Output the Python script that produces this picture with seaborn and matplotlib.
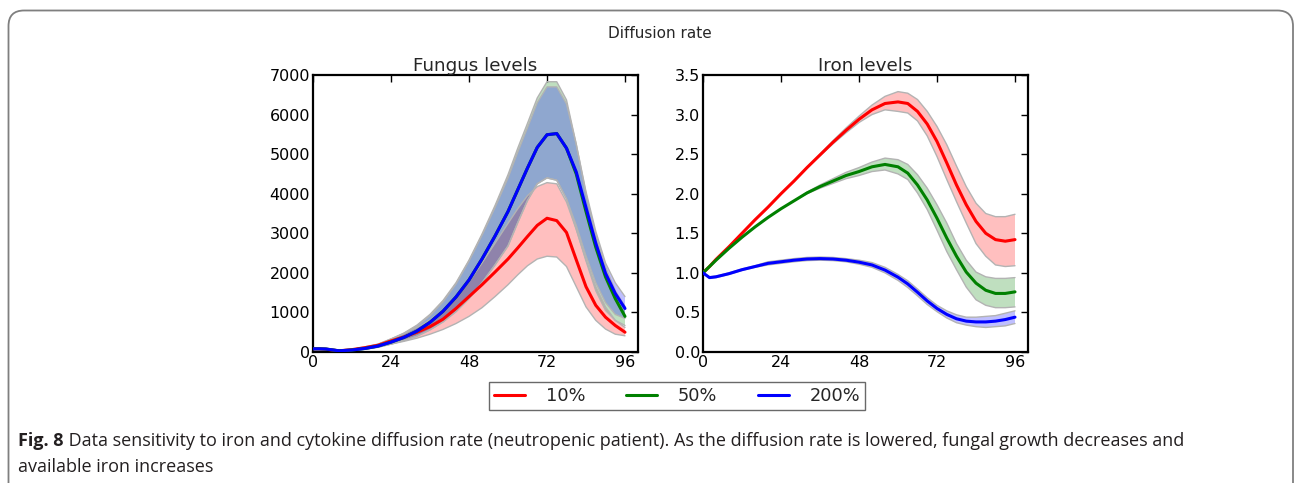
import numpy as np
import pandas as pd
import matplotlib
matplotlib.use("Agg")
import matplotlib.pyplot as plt
import seaborn as sns
from matplotlib.patches import FancyBboxPatch
from matplotlib.lines import Line2D

# ---------------- data ----------------
hours = [0, 2, 4, 8, 12, 16, 20, 24, 28, 32, 36, 40, 44, 48, 52, 56,
         60, 63, 66, 69, 72, 75, 78, 81, 84, 87, 90, 93, 96]
labels = ["10%", "50%", "200%"]
colors = ["#ff0000", "#008000", "#0000ff"]

fungus_10 = [80, 80, 70, 30, 60, 110, 170, 280, 380, 500, 640, 830, 1100, 1400, 1700, 2020,
             2350, 2630, 2920, 3200, 3380, 3320, 3020, 2330, 1650, 1180, 880, 670, 500]
fungus_10_lo = [80, 80, 70, 25, 50, 90, 140, 200, 270, 350, 450, 570, 720, 900, 1120, 1400,
                1700, 1950, 2180, 2350, 2420, 2400, 2160, 1650, 1140, 800, 580, 450, 410]
fungus_10_hi = [80, 80, 70, 35, 70, 130, 200, 330, 460, 620, 810, 1060, 1380, 1780, 2250, 2750,
                3250, 3620, 3950, 4180, 4280, 4250, 3790, 3100, 2330, 1650, 1140, 800, 620]

fungus_50 = [80, 80, 75, 30, 50, 90, 150, 250, 370, 530, 750, 1030, 1390, 1820, 2350, 2930,
             3550, 4100, 4650, 5170, 5490, 5520, 5150, 4500, 3550, 2650, 1900, 1350, 900]
fungus_50_lo = [80, 80, 75, 25, 40, 70, 120, 200, 290, 400, 560, 760, 1020, 1350, 1750, 2200,
                2680, 3270, 3830, 4250, 4400, 4340, 3870, 3100, 2300, 1550, 1050, 800, 670]
fungus_50_hi = [80, 80, 75, 35, 60, 110, 190, 330, 480, 680, 950, 1300, 1750, 2320, 2980, 3700,
                4480, 5150, 5780, 6420, 6830, 6830, 6370, 5250, 4000, 2950, 2150, 1550, 1150]

fungus_200 = [80, 80, 75, 30, 50, 90, 150, 250, 370, 530, 750, 1030, 1390, 1820, 2350, 2930,
              3550, 4100, 4650, 5170, 5490, 5520, 5150, 4550, 3650, 2750, 1990, 1480, 1100]
fungus_200_lo = [80, 80, 75, 25, 40, 70, 120, 200, 290, 400, 560, 760, 1020, 1350, 1750, 2200,
                 2680, 3270, 3830, 4250, 4400, 4340, 3870, 3200, 2430, 1750, 1250, 950, 850]
fungus_200_hi = [80, 80, 75, 35, 60, 110, 190, 320, 470, 660, 920, 1270, 1720, 2300, 2950, 3650,
                 4400, 5050, 5670, 6300, 6700, 6700, 6270, 5250, 4050, 3050, 2250, 1750, 1400]

iron_10 = [1.0, 1.08, 1.17, 1.33, 1.50, 1.67, 1.83, 2.00, 2.16, 2.33, 2.49, 2.65, 2.80, 2.94, 3.06, 3.14,
           3.16, 3.14, 3.04, 2.88, 2.66, 2.39, 2.11, 1.86, 1.65, 1.50, 1.42, 1.40, 1.42]
iron_10_lo = [1.0, 1.08, 1.17, 1.33, 1.50, 1.67, 1.83, 2.00, 2.16, 2.33, 2.48, 2.63, 2.77, 2.90, 3.00, 3.06,
              3.04, 3.02, 2.92, 2.73, 2.47, 2.18, 1.90, 1.63, 1.37, 1.21, 1.10, 1.08, 1.09]
iron_10_hi = [1.0, 1.08, 1.17, 1.33, 1.50, 1.67, 1.83, 2.00, 2.16, 2.33, 2.50, 2.67, 2.83, 2.98, 3.12, 3.23,
              3.29, 3.27, 3.19, 3.04, 2.85, 2.62, 2.35, 2.09, 1.88, 1.75, 1.71, 1.71, 1.74]

iron_50 = [1.0, 1.08, 1.16, 1.31, 1.45, 1.58, 1.70, 1.81, 1.91, 2.01, 2.09, 2.16, 2.23, 2.28, 2.34, 2.37,
           2.34, 2.26, 2.11, 1.92, 1.69, 1.44, 1.21, 1.01, 0.87, 0.78, 0.74, 0.74, 0.76]
iron_50_lo = [1.0, 1.08, 1.16, 1.31, 1.45, 1.58, 1.70, 1.81, 1.91, 2.00, 2.07, 2.13, 2.19, 2.23, 2.28, 2.30,
              2.25, 2.18, 2.01, 1.80, 1.54, 1.27, 1.04, 0.82, 0.66, 0.59, 0.56, 0.56, 0.57]
iron_50_hi = [1.0, 1.08, 1.16, 1.31, 1.45, 1.58, 1.70, 1.81, 1.91, 2.02, 2.11, 2.19, 2.27, 2.33, 2.40, 2.45,
              2.43, 2.37, 2.24, 2.07, 1.86, 1.63, 1.37, 1.16, 1.01, 0.95, 0.93, 0.93, 0.94]

iron_200 = [1.0, 0.94, 0.95, 0.99, 1.04, 1.08, 1.12, 1.14, 1.16, 1.175, 1.18, 1.175, 1.16, 1.135, 1.10, 1.035,
            0.945, 0.86, 0.755, 0.645, 0.55, 0.475, 0.42, 0.39, 0.38, 0.38, 0.39, 0.41, 0.44]
iron_200_lo = [1.0, 0.93, 0.94, 0.98, 1.03, 1.07, 1.10, 1.12, 1.14, 1.155, 1.16, 1.155, 1.14, 1.11, 1.07, 1.00,
               0.905, 0.815, 0.71, 0.60, 0.51, 0.43, 0.37, 0.34, 0.32, 0.31, 0.32, 0.33, 0.36]
iron_200_hi = [1.0, 0.95, 0.96, 1.00, 1.05, 1.09, 1.14, 1.16, 1.18, 1.195, 1.20, 1.195, 1.18, 1.16, 1.13, 1.07,
               0.98, 0.90, 0.795, 0.685, 0.59, 0.52, 0.47, 0.44, 0.44, 0.45, 0.46, 0.49, 0.52]

xticks = [0, 24, 48, 72, 96]
fungus_yticks = [0, 1000, 2000, 3000, 4000, 5000, 6000, 7000]
iron_yticks = [0.0, 0.5, 1.0, 1.5, 2.0, 2.5, 3.0, 3.5]

suptitle = "Diffusion rate"
caption_bold = "Fig. 8"
caption_line1 = " Data sensitivity to iron and cytokine diffusion rate (neutropenic patient). As the diffusion rate is lowered, fungal growth decreases and"
caption_line2 = "available iron increases"

# ---------------- style ----------------
sns.set_style("white")
plt.rcParams.update({
    "font.family": ["DejaVu Sans"],
    "xtick.direction": "in", "ytick.direction": "in",
    "xtick.top": True, "ytick.right": True,
    "xtick.major.size": 5, "ytick.major.size": 5,
    "xtick.major.width": 1, "ytick.major.width": 1,
    "xtick.color": "black", "ytick.color": "black",
    "axes.edgecolor": "black", "axes.linewidth": 1.6,
    "xtick.labelsize": 11.5, "ytick.labelsize": 11.5,
})

W, H = 1294, 483
fig = plt.figure(figsize=(W / 100, H / 100), dpi=100)

def frac_rect(x0, y0, x1, y1):
    return [x0 / W, 1 - y1 / H, (x1 - x0) / W, (y1 - y0) / H]

ax1 = fig.add_axes(frac_rect(313, 75, 638, 352))
ax2 = fig.add_axes(frac_rect(703, 75, 1028, 352))

def make_long(means, los, his):
    rows = []
    for lab, m, lo, hi in zip(labels, means, los, his):
        assert len(m) == len(lo) == len(hi) == len(hours)
        for t, a, b, c in zip(hours, m, lo, hi):
            rows.append({"hour": t, "value": a, "lo": b, "hi": c, "rate": lab})
    return pd.DataFrame(rows)

fungus_df = make_long([fungus_10, fungus_50, fungus_200],
                      [fungus_10_lo, fungus_50_lo, fungus_200_lo],
                      [fungus_10_hi, fungus_50_hi, fungus_200_hi])
iron_df = make_long([iron_10, iron_50, iron_200],
                    [iron_10_lo, iron_50_lo, iron_200_lo],
                    [iron_10_hi, iron_50_hi, iron_200_hi])

palette = dict(zip(labels, colors))

for ax, df, title, yt, ylim in [
    (ax1, fungus_df, "Fungus levels", fungus_yticks, (0, 7000)),
    (ax2, iron_df, "Iron levels", iron_yticks, (0, 3.5)),
]:
    for lab in labels:
        sub = df[df["rate"] == lab]
        ax.fill_between(sub["hour"], sub["lo"], sub["hi"], facecolor=palette[lab],
                        alpha=0.25, edgecolor="none", zorder=1)
        ax.plot(sub["hour"], sub["lo"], color="0.7", lw=1.0, zorder=1.5)
        ax.plot(sub["hour"], sub["hi"], color="0.7", lw=1.0, zorder=1.5)
    sns.lineplot(data=df, x="hour", y="value", hue="rate", hue_order=labels,
                 palette=palette, linewidth=2.2, legend=False, ax=ax, zorder=3,
                 estimator=None, sort=True)
    ax.set_xlim(0, 100)
    ax.set_ylim(*ylim)
    ax.set_xticks(xticks)
    ax.set_yticks(yt)
    ax.set_xlabel("")
    ax.set_ylabel("")
    ax.set_title(title, fontsize=13.2, pad=3)
    ax.tick_params(pad=2)
    for s in ax.spines.values():
        s.set_visible(True)
        s.set_linewidth(1.6)

ax2.set_yticklabels([f"{v:.1f}" for v in iron_yticks])

# legend
handles = [Line2D([0], [0], color=c, lw=2.2) for c in colors]
leg = fig.legend(handles, labels, ncol=3, loc="center",
                 bbox_to_anchor=(677 / W, 1 - 396 / H), fontsize=12.8,
                 frameon=True, fancybox=False, edgecolor="#444444",
                 handlelength=1.75, columnspacing=2.3, handletextpad=1.15,
                 borderpad=0.3)
leg.get_frame().set_linewidth(1.0)

fig.text(660 / W, 1 - 34 / H, suptitle, ha="center", va="center", fontsize=11)

# outer rounded border
border = FancyBboxPatch((8.5 / W, -0.05), (1293 - 8.5) / W, 1 - 10.5 / H + 0.05,
                        boxstyle="round,pad=0,rounding_size=0.012",
                        transform=fig.transFigure, facecolor="none",
                        edgecolor="#7f7f7f", linewidth=1.3, zorder=0,
                        mutation_aspect=W / H)
fig.add_artist(border)

# caption
cap_font = ["Open Sans", "DejaVu Sans"]
cap_size = 12.95
cap_color = "#231f20"
t_b = fig.text(18 / W, 1 - 446 / H, caption_bold, fontsize=cap_size, fontweight="bold",
               family=cap_font, ha="left", va="baseline", color=cap_color)
fig.canvas.draw()
bb = t_b.get_window_extent(fig.canvas.get_renderer())
fig.text(bb.x1 / W, 1 - 446 / H, caption_line1, fontsize=cap_size,
         family=cap_font, ha="left", va="baseline", color=cap_color)
fig.text(18 / W, 1 - 472 / H, caption_line2, fontsize=cap_size,
         family=cap_font, ha="left", va="baseline", color=cap_color)

fig.savefig("out.png", dpi=100)
